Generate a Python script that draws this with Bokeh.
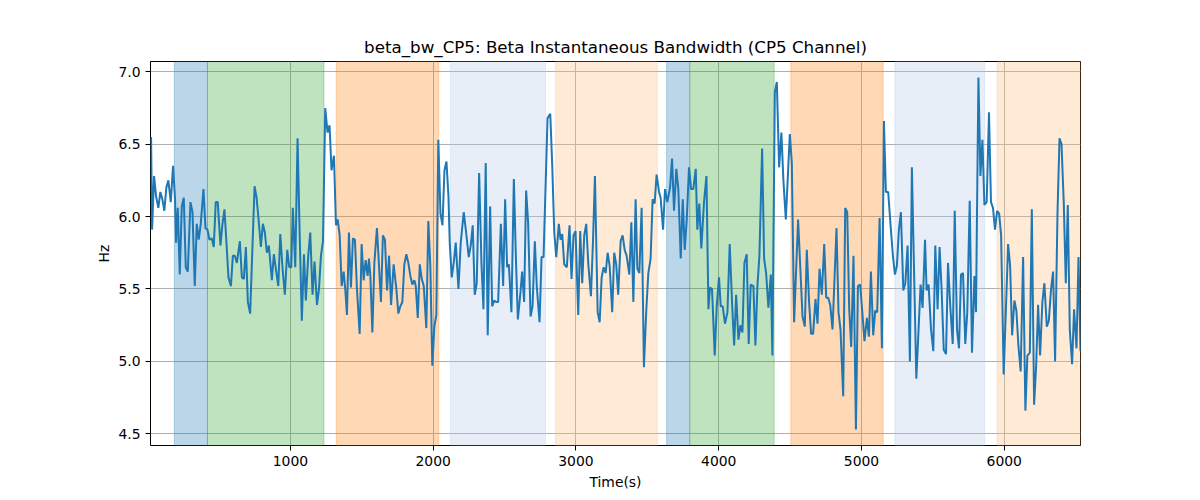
from bokeh.plotting import figure
from bokeh.models import Range1d, BoxAnnotation, FixedTicker, PrintfTickFormatter
from bokeh.embed import file_html
from bokeh.resources import INLINE

times = [24, 31, 45, 59, 75, 89, 103, 117, 131, 145, 162, 178, 192, 199, 211, 225, 239, 253, 267, 281,
         300, 314, 330, 344, 358, 372, 391, 405, 419, 433, 449, 463, 477, 491, 510, 524, 538, 552, 566, 583,
         597, 611, 625, 646, 660, 674, 688, 702, 718, 749, 763, 777, 793, 807, 821, 835, 849, 870, 884, 898,
         915, 929, 945, 961, 978, 992, 1006, 1017, 1034, 1050, 1064, 1080, 1095,
         1108, 1125, 1139, 1155, 1169, 1186, 1200, 1214, 1228, 1244, 1260, 1274, 1288, 1305, 1319, 1331, 1345, 1359,
         1373, 1384, 1396, 1410, 1424, 1438, 1452, 1466, 1485, 1499, 1513, 1527, 1541, 1550, 1560, 1574, 1588, 1606,
         1620, 1634, 1648, 1662, 1677, 1691, 1705, 1723, 1742, 1756, 1770, 1784, 1798, 1812, 1826, 1840, 1854, 1868,
         1878, 1892, 1906, 1920, 1934, 1952, 1966, 1980, 1994, 2008, 2022, 2036, 2051, 2065, 2079, 2093, 2107, 2116,
         2130, 2144, 2158, 2177,
         2193, 2214, 2233, 2249, 2263, 2277, 2291, 2305, 2322, 2338, 2352, 2368, 2382, 2399, 2413, 2427, 2441, 2455,
         2474, 2490, 2504, 2518, 2530, 2548, 2565, 2579, 2593, 2609, 2623, 2637, 2651, 2665, 2682, 2696, 2712, 2726,
         2745, 2759, 2773, 2801, 2820, 2834, 2848, 2862, 2880, 2892, 2904, 2918, 2936, 2955, 2969, 2983, 2997, 3016,
         3030, 3044, 3058, 3072, 3086, 3105, 3119, 3133, 3152, 3166, 3180, 3194, 3208, 3222, 3236, 3254, 3268,
         3282, 3296, 3313, 3327, 3341, 3355, 3374, 3388, 3402, 3418, 3430, 3444, 3460, 3476, 3493, 3507, 3523, 3537,
         3551, 3565, 3582, 3593, 3610, 3624, 3640, 3659, 3673, 3687, 3703, 3717, 3734, 3748, 3762, 3776, 3792, 3806,
         3822, 3839, 3850, 3864, 3878, 3897, 3914, 3928, 3939, 3953, 3972, 3986, 4002, 4014, 4028, 4044, 4061, 4077,
         4094, 4108, 4122, 4138, 4152, 4166, 4180, 4196, 4210, 4224, 4243, 4257, 4271, 4285, 4304, 4318, 4332, 4348,
         4365,
         4376, 4393, 4407, 4423, 4439, 4453, 4470, 4498, 4512, 4528, 4556, 4587, 4603, 4617, 4633, 4647, 4661, 4678,
         4692, 4706, 4722, 4739, 4753, 4767, 4781, 4797, 4825, 4839, 4853, 4872, 4886, 4900, 4914, 4928, 4944, 4961,
         4975, 4991, 5021, 5038, 5052, 5066, 5082, 5096, 5110, 5127, 5143, 5157, 5171, 5187, 5206, 5220, 5234, 5248,
         5262, 5276, 5293, 5307, 5323, 5339, 5353, 5384, 5414, 5428, 5445,
         5456, 5470, 5487, 5503, 5517, 5533, 5547, 5561, 5576, 5592, 5606, 5622, 5639, 5653, 5669, 5683, 5697, 5711,
         5727, 5741, 5758, 5774, 5791, 5802, 5819, 5833, 5847, 5861, 5877, 5893, 5907, 5921, 5935, 5950, 5964, 5978,
         5996, 6027, 6041, 6055, 6071, 6085, 6099, 6115, 6132, 6148, 6162, 6179, 6193, 6209, 6223, 6237, 6251, 6267,
         6281, 6298, 6312, 6328, 6342, 6356, 6373, 6387, 6401, 6417, 6431, 6445, 6459, 6475, 6489, 6506, 6520, 6534]

values = [6.55, 5.91, 6.28, 6.14, 6.06, 6.17, 6.12, 6.04, 6.2, 6.25, 6.1, 6.35, 6.12, 5.82, 6.06, 5.6, 6.07, 6.13, 5.65, 5.62,
          6.1, 6.03, 5.52, 5.95, 5.84, 5.95, 6.19, 5.92, 5.91, 5.84, 5.85, 5.79, 6.1, 6.1, 5.8, 5.95, 6.05, 5.82, 5.58, 5.52,
          5.73, 5.73, 5.68, 5.83, 5.58, 5.57, 5.79, 5.41, 5.33, 6.21, 6.13, 5.98, 5.79, 5.95, 5.89, 5.75, 5.8, 5.56, 5.74, 5.64,
          5.52, 5.88, 5.64, 5.46, 5.77, 5.65, 5.65, 6.06, 5.65, 6.54, 5.91, 5.28, 5.74,
          5.42, 5.73, 5.89, 5.46, 5.69, 5.39, 5.5, 5.73, 5.83, 6.75, 6.58, 6.63, 6.32, 6.42, 5.94, 5.98, 5.87, 5.52,
          5.62, 5.5, 5.32, 5.89, 5.51, 5.85, 5.84, 5.5, 5.19, 5.81, 5.56, 5.7, 5.59, 5.71, 5.59, 5.2, 5.68, 5.92,
          5.67, 5.41, 5.87, 5.84, 5.49, 5.73, 5.39, 5.67, 5.5, 5.33, 5.38, 5.41, 5.67, 5.74, 5.68, 5.59, 5.53, 5.56,
          5.52, 5.3, 5.67, 5.57, 5.52, 5.23, 5.97, 5.66, 4.97, 5.24, 5.32, 6.53, 6.02, 5.94, 6.32, 6.38, 6.14, 5.82,
          5.58, 5.68, 5.82, 5.5,
          5.82, 6.03, 5.87, 5.72, 5.8, 5.94, 5.46, 5.54, 6.3, 5.68, 5.36, 6.37, 5.18, 6.07, 5.38, 5.42, 5.41, 5.41,
          5.95, 5.52, 6.12, 5.65, 5.67, 5.34, 6.26, 5.73, 5.29, 5.45, 5.62, 5.41, 6.18, 5.96, 5.31, 5.38, 5.83, 5.51,
          5.27, 5.72, 5.72, 6.68, 6.71, 6.35, 5.89, 5.72, 5.95, 5.84, 5.88, 5.67, 5.65, 5.94, 5.57, 5.87, 5.9, 5.32,
          5.9, 5.54, 5.87, 5.95, 5.68, 5.45, 5.82, 6.28, 5.34, 5.27, 5.58, 5.65, 5.61, 5.75, 5.66, 5.34, 5.75,
          5.67, 5.46, 5.83, 5.87, 5.77, 5.73, 5.6, 5.96, 5.41, 6.12, 5.64, 5.61, 6.06, 4.96, 5.36, 5.61, 5.71, 6.12,
          6.09, 6.29, 6.17, 6.13, 5.91, 6.19, 6.1, 6.2, 6.4, 6.04, 6.33, 6.19, 5.71, 6.12, 5.77, 5.98, 6.34, 6.19,
          6.19, 6.33, 5.91, 6.09, 5.78, 6.1, 6.28, 5.36, 5.51, 5.5, 5.04, 5.38, 5.58, 5.38, 5.38, 5.26, 5.34, 5.81,
          5.39, 5.11, 5.46, 5.15, 5.25, 5.2, 5.68, 5.74, 5.12, 5.53, 5.52, 5.11, 5.52, 5.73, 6.47, 5.71, 5.61, 5.37,
          5.6,
          5.04, 6.86, 6.93, 6.34, 6.58, 6.25, 5.98, 6.57, 6.37, 5.27, 5.98, 5.31, 5.24, 5.77, 5.41, 5.19, 5.19, 5.43,
          5.26, 5.64, 5.46, 5.81, 5.44, 5.44, 5.39, 5.22, 5.92, 5.34, 5.22, 4.76, 6.06, 6.03, 5.36, 5.1, 5.73, 4.53,
          5.52, 5.53, 5.14, 5.3, 5.17, 5.62, 5.18, 5.35, 5.34, 5.99, 5.09, 6.66, 6.17, 6.17, 5.91, 5.73, 5.6, 5.66,
          5.91, 6.03, 5.49, 5.54, 5.8, 5.0, 6.34, 4.88, 5.53, 5.37, 5.84,
          5.49, 5.53, 5.22, 5.07, 5.8, 5.36, 5.79, 5.5, 5.08, 5.05, 5.68, 5.38, 5.12, 6.04, 5.22, 5.09, 5.6, 5.61,
          5.12, 5.34, 6.11, 5.06, 5.59, 5.34, 6.96, 6.28, 6.53, 6.08, 6.1, 6.72, 6.1, 6.06, 5.91, 6.04, 6.02, 5.87,
          4.91, 5.81, 5.66, 5.18, 5.42, 5.35, 5.11, 4.93, 5.72, 4.66, 5.04, 5.06, 6.05, 4.7, 4.96, 5.39, 5.04, 5.41,
          5.54, 5.24, 5.28, 5.5, 5.62, 5.0, 6.03, 6.54, 6.5, 6.09, 5.54, 6.08, 5.22, 4.98, 5.36, 5.09, 5.72, 5.07]

span_starts = [187, 419, 1321, 2121, 2857, 3635, 3797, 4505, 5234, 5950]
span_ends = [419, 1235, 2039, 2787, 3570, 3797, 4388, 5152, 5863, 6534]
span_colors = ["#1f77b4", "#2ca02c", "#ff7f0e", "#aec7e8", "#ffbb78",
               "#1f77b4", "#2ca02c", "#ff7f0e", "#aec7e8", "#ffbb78"]

y_ticks = [4.5, 5.0, 5.5, 6.0, 6.5, 7.0]
x_ticks = [1000, 2000, 3000, 4000, 5000, 6000]

FONT = "DejaVu Sans"

p = figure(width=1200, height=500, output_backend="svg", toolbar_location=None,
           x_range=Range1d(times[0] - 4, times[-1]), y_range=Range1d(4.419, 7.071),
           min_border_left=150, min_border_right=120, min_border_top=61, min_border_bottom=55,
           title="beta_bw_CP5: Beta Instantaneous Bandwidth (CP5 Channel)")

p.title.align = "center"
p.title.text_font = FONT
p.title.text_font_size = "16.7px"
p.title.text_font_style = "normal"
p.title.text_color = "black"

for s, e, c in zip(span_starts, span_ends, span_colors):
    p.add_layout(BoxAnnotation(left=s, right=e, fill_color=c, fill_alpha=0.3,
                               line_color=c, line_alpha=0.3, line_width=1, level="underlay"))

p.line(times, values, line_color="#1f77b4", line_width=2)

p.xaxis.ticker = FixedTicker(ticks=x_ticks)
p.yaxis.ticker = FixedTicker(ticks=y_ticks)
p.yaxis.formatter = PrintfTickFormatter(format="%.1f")
p.xaxis.axis_label = "Time(s)"
p.yaxis.axis_label = "Hz"

for ax in (p.xaxis, p.yaxis):
    ax.axis_label_text_font = FONT
    ax.axis_label_text_font_size = "13.9px"
    ax.axis_label_text_font_style = "normal"
    ax.axis_label_text_color = "black"
    ax.major_label_text_font = FONT
    ax.major_label_text_font_size = "13.9px"
    ax.major_label_text_color = "black"
    ax.major_tick_out = 5
    ax.major_tick_in = 0
    ax.minor_tick_out = 0
    ax.minor_tick_in = 0
    ax.axis_line_color = None
    ax.major_tick_line_color = "black"

p.xaxis.axis_label_standoff = 5
p.yaxis.axis_label_standoff = 3

p.grid.grid_line_color = "#b0b0b0"
p.grid.grid_line_width = 1
p.outline_line_color = "black"
p.outline_line_width = 1
p.outline_line_alpha = 1
p.background_fill_color = "white"
p.border_fill_color = "white"

open("out.html", "w").write(file_html(p, INLINE))
